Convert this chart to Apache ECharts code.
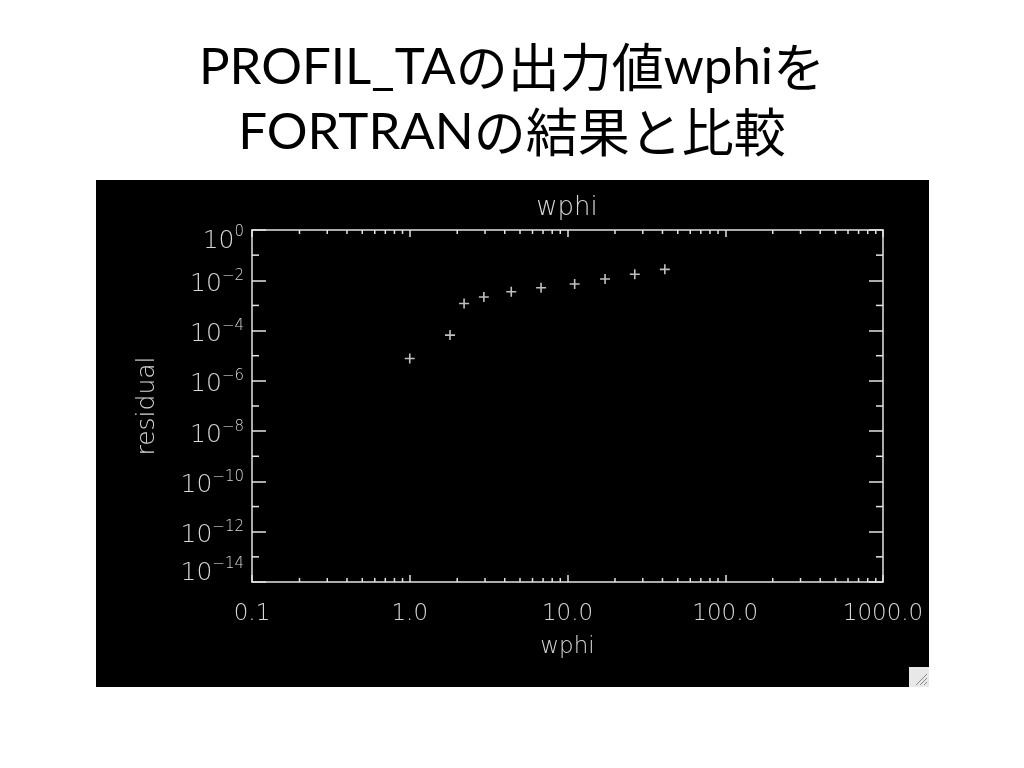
<!DOCTYPE html>
<html><head><meta charset="utf-8">
<script src="https://cdn.jsdelivr.net/npm/echarts@6/dist/echarts.min.js"></script>
<style>html,body{margin:0;padding:0;background:#fff}#c{width:1024px;height:768px}</style>
</head><body><div id="c"></div><script>
// ---- text ----
const slideTitle = 'PROFIL_TA{j|の出力値}wphi{j|を}\nFORTRAN{j|の結果と比較}';
const plotTitle = 'wphi';
const xName = 'wphi';
const yName = 'residual';
// ---- data ----
const wphi = [1.0, 1.80, 2.21, 2.95, 4.40, 6.80, 11.1, 17.3, 26.7, 41.4];
const residual = [7.8e-6, 6.6e-5, 1.2e-3, 2.15e-3, 3.5e-3, 5.05e-3, 7.1e-3, 1.12e-2, 1.73e-2, 2.72e-2];
// ---- axes ----
const xMin = 0.1, xMax = 1000;
const yMin = 1e-14, yMax = 1;
const xTickLabels = {'-1': '0.1', '0': '1.0', '1': '10.0', '2': '100.0', '3': '1000.0'};
const xMinorDecades = [0.1, 1, 10, 100];
const xMinorMultipliers = [2, 3, 4, 5, 6, 7, 8, 9];
const yMinorTicks = [1e-13, 1e-11, 1e-9, 1e-7, 1e-5, 1e-3, 1e-1];

const xMinorTicks = [];
xMinorDecades.forEach(d => xMinorMultipliers.forEach(m => xMinorTicks.push(d * m)));

const FG = '#e4e4e4';
const TXT = '#d6d6d6';
const FONT = 'DejaVu Sans';

function yLabel(v) {
  const e = Math.round(Math.log10(v));
  const k = e === 0 ? 't' : (e === -14 ? 'm' : 'n');
  const ex = e < 0 ? '\u2212' + (-e) : String(e);
  return '{b' + k + '|10}{s' + k + '|' + ex + '}';
}
const bBase = {fontSize: 25, fontFamily: FONT, color: TXT, fontWeight: 200};
const sBase = {fontSize: 15, fontFamily: FONT, color: TXT, fontWeight: 200};
const yRich = {
  bn: Object.assign({}, bBase, {padding: [8, 0, 0, 0]}),
  sn: Object.assign({}, sBase, {padding: [0, 0, 9, 0]}),
  bt: Object.assign({}, bBase, {padding: [22, 0, 0, 0]}),
  st: Object.assign({}, sBase, {padding: [4, 0, 0, 0]}),
  bm: Object.assign({}, bBase, {padding: [0, 0, 17, 0]}),
  sm: Object.assign({}, sBase, {padding: [0, 0, 35, 0]})
};

const axisLine = {show: true, lineStyle: {color: FG, width: 1.5}};
function xAx(pos, labels) {
  return {
    type: 'log', logBase: 10, min: xMin, max: xMax, position: pos,
    axisLine: axisLine,
    axisTick: {show: true, inside: true, length: 7, lineStyle: {color: FG, width: 1.5}},
    axisLabel: labels ? {
      show: true, margin: 21, color: TXT, fontFamily: FONT, fontSize: 23, fontWeight: 200,
      showMinLabel: true, showMaxLabel: true,
      formatter: v => xTickLabels[String(Math.round(Math.log10(v)))] || ''
    } : {show: false},
    splitLine: {show: false},
    name: labels ? xName : '', nameLocation: 'middle', nameGap: 54,
    nameTextStyle: {color: TXT, fontFamily: FONT, fontSize: 23, fontWeight: 200}
  };
}
function yAx(pos, labels) {
  return {
    type: 'log', logBase: 10, min: yMin, max: yMax, interval: 2, splitNumber: 7, position: pos,
    axisLine: axisLine,
    axisTick: {show: true, inside: true, length: 14, lineStyle: {color: FG, width: 1.5}},
    axisLabel: labels ? {
      show: true, margin: 8, showMinLabel: true, showMaxLabel: true,
      formatter: yLabel, rich: yRich
    } : {show: false},
    splitLine: {show: false},
    name: labels ? yName : '', nameLocation: 'middle', nameGap: 92,
    nameTextStyle: {color: TXT, fontFamily: FONT, fontSize: 25, fontWeight: 200}
  };
}

const tickStyle = {stroke: FG, lineWidth: 1.5};
const chart = echarts.init(document.getElementById('c'));
chart.setOption({
  backgroundColor: '#ffffff',
  animation: false,
  title: {
    text: slideTitle, left: 'center', top: 30,
    textStyle: {
      color: '#000', fontFamily: 'Lato, "Noto Sans CJK JP"', fontSize: 51, fontWeight: 'normal', lineHeight: 65,
      rich: {j: {fontFamily: '"Noto Sans CJK JP"', fontSize: 52, color: '#000', lineHeight: 65}}
    }
  },
  graphic: [
    {type: 'rect', z: -100, silent: true, shape: {x: 96, y: 180, width: 833, height: 507}, style: {fill: '#000'}},
    {type: 'text', x: 567, y: 208, silent: true,
     style: {text: plotTitle, fill: TXT, fontSize: 26, fontFamily: FONT, fontWeight: 200, align: 'center', verticalAlign: 'middle'}},
    {type: 'rect', silent: true, shape: {x: 909, y: 667, width: 20, height: 20}, style: {fill: '#e8e8e8'}},
    {type: 'line', silent: true, shape: {x1: 916, y1: 685, x2: 927, y2: 674}, style: {stroke: '#8a8a8a', lineWidth: 1}},
    {type: 'line', silent: true, shape: {x1: 920, y1: 685, x2: 927, y2: 678}, style: {stroke: '#8a8a8a', lineWidth: 1}},
    {type: 'line', silent: true, shape: {x1: 924, y1: 685, x2: 927, y2: 682}, style: {stroke: '#8a8a8a', lineWidth: 1}}
  ],
  grid: {left: 252, right: 141, top: 230, bottom: 186, containLabel: false, show: false},
  xAxis: [xAx('bottom', true), xAx('top', false)],
  yAxis: [yAx('left', true), yAx('right', false)],
  series: [
    {
      type: 'scatter', xAxisIndex: 0, yAxisIndex: 0, silent: true,
      data: wphi.map((x, i) => [x, residual[i]]),
      symbol: 'path://M4.2,0h1.6v4.2h4.2v1.6h-4.2v4.2h-1.6v-4.2h-4.2v-1.6h4.2z', symbolSize: 10,
      itemStyle: {color: '#f0f0f0'}
    },
    {
      type: 'custom', xAxisIndex: 0, yAxisIndex: 0, silent: true, clip: false,
      data: xMinorTicks.map(v => [v, 1e-7]),
      encode: {x: 0, y: 1},
      renderItem: (p, api) => {
        const v = api.value(0);
        const b = api.coord([v, yMin]);
        const t = api.coord([v, yMax]);
        return {type: 'group', children: [
          {type: 'line', shape: {x1: b[0], y1: b[1], x2: b[0], y2: b[1] - 4}, style: tickStyle},
          {type: 'line', shape: {x1: t[0], y1: t[1], x2: t[0], y2: t[1] + 4}, style: tickStyle}
        ]};
      }
    },
    {
      type: 'custom', xAxisIndex: 0, yAxisIndex: 0, silent: true, clip: false,
      data: yMinorTicks.map(v => [1, v]),
      encode: {x: 0, y: 1},
      renderItem: (p, api) => {
        const v = api.value(1);
        const l = api.coord([xMin, v]);
        const r = api.coord([xMax, v]);
        return {type: 'group', children: [
          {type: 'line', shape: {x1: l[0], y1: l[1], x2: l[0] + 7, y2: l[1]}, style: tickStyle},
          {type: 'line', shape: {x1: r[0], y1: r[1], x2: r[0] - 7, y2: r[1]}, style: tickStyle}
        ]};
      }
    }
  ]
});
</script></body></html>
